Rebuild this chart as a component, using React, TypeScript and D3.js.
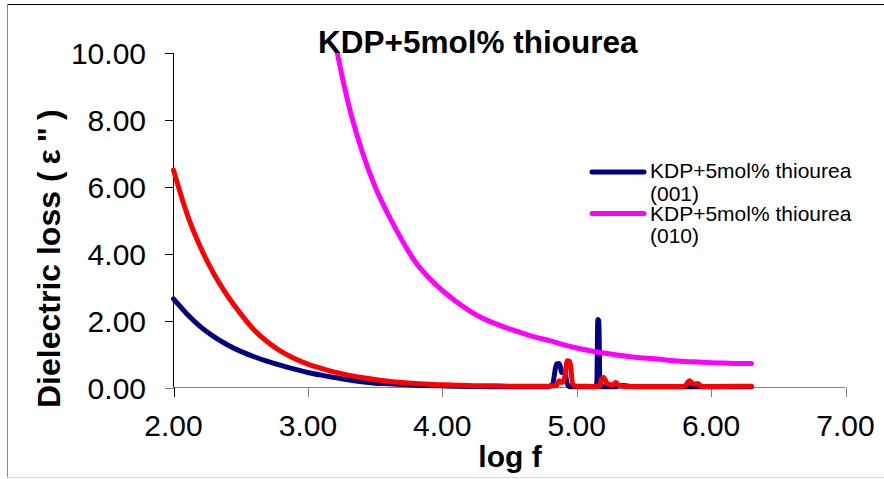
import React from "react";
import * as d3 from "d3";

const logF = [
  2.0, 2.1, 2.2, 2.3, 2.4, 2.5, 2.6, 2.7, 2.8, 2.9, 3.0, 3.1, 3.2, 3.3, 3.4, 3.5, 3.6, 3.7, 3.8, 3.9,
  4.0, 4.1, 4.2, 4.3, 4.4, 4.5, 4.6, 4.7, 4.78, 4.82, 4.85, 4.87, 4.89, 4.91, 4.93, 4.95, 4.97, 5.0,
  5.05, 5.1, 5.14, 5.15, 5.157, 5.165, 5.172, 5.18, 5.2, 5.23, 5.27, 5.29, 5.31, 5.35, 5.4, 5.5, 5.6, 5.7,
  5.8, 5.84, 5.87, 5.9, 5.93, 6.0, 6.1, 6.2, 6.3,
];

const loss001 = [
  2.65, 2.2, 1.82, 1.52, 1.28, 1.08, 0.92, 0.78, 0.66, 0.55, 0.45, 0.37, 0.3, 0.23, 0.17, 0.13, 0.11, 0.09, 0.07, 0.06,
  0.05, 0.04, 0.03, 0.03, 0.02, 0.02, 0.02, 0.02, 0.02, 0.1, 0.7, 0.72, 0.45, 0.48, 0.1, 0.02, 0.02, 0.02,
  0.02, 0.02, 0.02, 0.15, 2.03, 2.0, 0.15, 0.02, 0.02, 0.02, 0.02, 0.02, 0.04, 0.06, 0.03, 0.02, 0.02, 0.02,
  0.02, 0.02, 0.02, 0.02, 0.02, 0.02, 0.02, 0.02, 0.02,
];

const lossRed = [
  6.5, 5.2, 4.2, 3.4, 2.75, 2.2, 1.72, 1.36, 1.08, 0.87, 0.7, 0.57, 0.46, 0.37, 0.3, 0.24, 0.19, 0.15, 0.12, 0.1,
  0.08, 0.07, 0.06, 0.05, 0.05, 0.04, 0.04, 0.04, 0.04, 0.05, 0.06, 0.2, 0.15, 0.3, 0.8, 0.78, 0.1, 0.04,
  0.04, 0.03, 0.03, 0.03, 0.03, 0.03, 0.05, 0.2, 0.3, 0.1, 0.08, 0.15, 0.08, 0.03, 0.03, 0.03, 0.03, 0.03,
  0.03, 0.2, 0.1, 0.12, 0.03, 0.03, 0.03, 0.04, 0.04,
];

const logF010 = [
  2.0, 2.5, 3.0, 3.1, 3.2, 3.3, 3.4, 3.5, 3.6, 3.7, 3.8, 3.9, 4.0, 4.1, 4.2, 4.3, 4.4, 4.5, 4.6, 4.7,
  4.8, 4.9, 5.0, 5.1, 5.2, 5.3, 5.4, 5.5, 5.6, 5.7, 5.8, 5.9, 6.0, 6.1, 6.2, 6.3,
];
const loss010 = [
  60, 30, 15, 12.8, 10.4, 8.5, 7.1, 6.0, 5.15, 4.4, 3.75, 3.28, 2.9, 2.58, 2.3, 2.07, 1.9, 1.75, 1.62, 1.5,
  1.4, 1.28, 1.18, 1.1, 1.03, 0.97, 0.92, 0.88, 0.85, 0.81, 0.78, 0.76, 0.74, 0.73, 0.72, 0.72,
];

const xTicks = [2, 3, 4, 5, 6, 7];
const yTicks = [0, 2, 4, 6, 8, 10];

const titleText = "KDP+5mol% thiourea";
const xLabel = "log f";
const yLabelMain = "Dielectric loss ";
const yLabelSym = "(ε\")";
const legendNames = ["KDP+5mol% thiourea", "(001)", "KDP+5mol% thiourea", "(010)"];

const BLUE = "#000080";
const MAGENTA = "#FF00FF";
const RED = "#FF0000";

export default function App() {
  const W = 884;
  const H = 479;
  const x = d3.scaleLinear().domain([2, 7]).range([173.5, 845.5]);
  const y = d3.scaleLinear().domain([0, 10]).range([387.5, 53]);
  const font = "Arial, 'Liberation Sans', sans-serif";

  const line = d3.line<number>().curve(d3.curveMonotoneX);
  const mk = (xs: number[], ys: number[]) =>
    line.x((_, i) => x(xs[i])).y((d) => y(d))(ys) || "";

  const fmt = d3.format(".2f");

  return (
    <div style={{ position: "absolute", left: 0, top: 0, width: W, height: H }}>
      <svg width={W} height={H} style={{ display: "block", background: "#fff" }}>
        <defs>
          <clipPath id="plotClip">
            <rect x={170} y={53} width={700} height={430} />
          </clipPath>
        </defs>
        <rect x={0} y={0} width={W} height={H} fill="#fff" />
        <line x1={7.5} y1={4.5} x2={W} y2={4.5} stroke="#000" strokeWidth={1} />
        <line x1={7.5} y1={4.5} x2={7.5} y2={477.5} stroke="#888" strokeWidth={1} />
        <line x1={7.5} y1={477.5} x2={W} y2={477.5} stroke="#d9d9d9" strokeWidth={1} />

        <text x={318} y={53} fontFamily={font} fontWeight="bold" fontSize={31.5} fill="#000">
          {titleText}
        </text>

        <line x1={x(2)} y1={y(10)} x2={x(2)} y2={y(0)} stroke="#000" strokeWidth={1} />
        {yTicks.map((t) => (
          <g key={"y" + t}>
            <line x1={165} x2={x(2)} y1={Math.round(y(t)) + 0.5} y2={Math.round(y(t)) + 0.5} stroke={t === 0 ? "#808080" : "#000"} />
            <text x={146} y={y(t) + 11} textAnchor="end" fontFamily={font} fontSize={30} fill="#000">
              {fmt(t)}
            </text>
          </g>
        ))}

        <line x1={x(2)} y1={y(0)} x2={x(7)} y2={y(0)} stroke="#808080" strokeWidth={1} />
        {xTicks.map((t) => (
          <g key={"x" + t}>
            <line x1={Math.round(x(t)) + 0.5} x2={Math.round(x(t)) + 0.5} y1={y(0)} y2={397} stroke={t === 2 ? "#000" : "#808080"} />
            <text x={x(t)} y={436} textAnchor="middle" fontFamily={font} fontSize={30} fill="#000">
              {fmt(t)}
            </text>
          </g>
        ))}

        <text x={510} y={467} textAnchor="middle" fontFamily={font} fontWeight="bold" fontSize={30} fill="#000">
          {xLabel}
        </text>
        <text
          transform={`translate(60,408) rotate(-90)`}
          textAnchor="start"
          fontFamily={font}
          fontWeight="bold"
          fontSize={32}
          fill="#000"
        >
          {yLabelMain}
          <tspan letterSpacing={7}>{yLabelSym}</tspan>
        </text>

        <g clipPath="url(#plotClip)" fill="none" strokeWidth={5} strokeLinejoin="round" strokeLinecap="round">
          <path d={mk(logF, loss001)} stroke={BLUE} />
          <path d={mk(logF010, loss010)} stroke={MAGENTA} />
          <path d={mk(logF, lossRed)} stroke={RED} />
        </g>

        <g fontFamily={font} fontSize={21} fill="#000">
          <line x1={592} x2={644} y1={172} y2={172} stroke={BLUE} strokeWidth={5} strokeLinecap="round" />
          <text x={650} y={178}>{legendNames[0]}</text>
          <text x={650} y={201}>{legendNames[1]}</text>
          <line x1={592} x2={644} y1={213.5} y2={213.5} stroke={MAGENTA} strokeWidth={5} strokeLinecap="round" />
          <text x={650} y={221}>{legendNames[2]}</text>
          <text x={650} y={243}>{legendNames[3]}</text>
        </g>
      </svg>
    </div>
  );
}
